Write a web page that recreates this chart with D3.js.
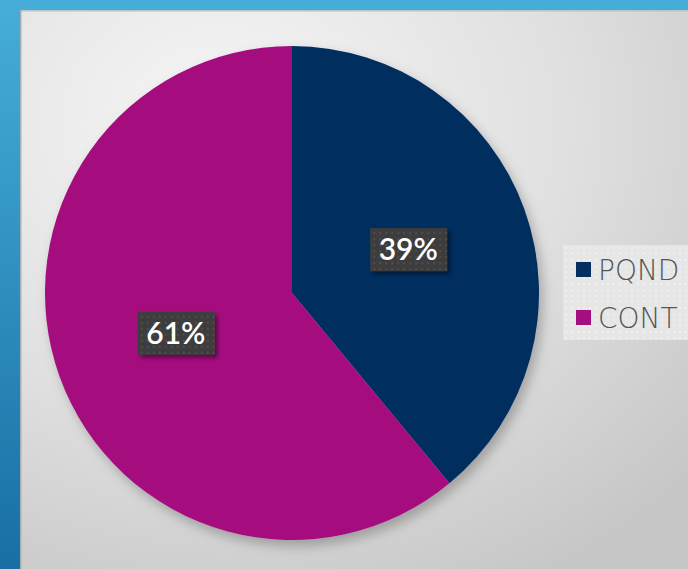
<!DOCTYPE html>
<html><head><meta charset="utf-8">
<script src="https://cdn.jsdelivr.net/npm/d3@7/dist/d3.min.js"></script>
<style>html,body{margin:0;padding:0;overflow:hidden;background:#fff}</style>
</head><body>
<svg id="c" width="688" height="569"></svg>
<script>
const categories = ["PQND", "CONT"];
const values = [39, 61];
const labels = ["39%", "61%"];
const colors = ["#062E5F", "#A50E7F"];

const svg = d3.select("#c");
const defs = svg.append("defs");

const bg = defs.append("linearGradient").attr("id","frame").attr("x1",0).attr("y1",0).attr("x2",0).attr("y2",1);
bg.append("stop").attr("offset","0%").attr("stop-color","#46AED8");
bg.append("stop").attr("offset","100%").attr("stop-color","#186FA4");

const panel = defs.append("radialGradient").attr("id","panel").attr("cx","0.3").attr("cy","0.2").attr("r","0.95");
panel.append("stop").attr("offset","0%").attr("stop-color","#f6f6f6");
panel.append("stop").attr("offset","55%").attr("stop-color","#e0e0e0");
panel.append("stop").attr("offset","100%").attr("stop-color","#c6c6c6");

const sh = defs.append("filter").attr("id","shadow").attr("x","-20%").attr("y","-20%").attr("width","140%").attr("height","140%");
sh.append("feDropShadow").attr("dx",4).attr("dy",6).attr("stdDeviation",6).attr("flood-color","#000").attr("flood-opacity",0.25);

const lsh = defs.append("filter").attr("id","lshadow").attr("x","-20%").attr("y","-20%").attr("width","150%").attr("height","160%");
lsh.append("feDropShadow").attr("dx",3).attr("dy",3).attr("stdDeviation",2).attr("flood-color","#000").attr("flood-opacity",0.45);

const pat = defs.append("pattern").attr("id","dots").attr("width",6).attr("height",6).attr("patternUnits","userSpaceOnUse");
pat.append("rect").attr("width",6).attr("height",6).attr("fill","#3e3e3e");
pat.append("rect").attr("x",1).attr("y",1).attr("width",2).attr("height",2).attr("fill","#4d4d4d");

const lpat = defs.append("pattern").attr("id","ldots").attr("width",6).attr("height",6).attr("patternUnits","userSpaceOnUse");
lpat.append("rect").attr("width",6).attr("height",6).attr("fill","#e6e6e6");
lpat.append("rect").attr("x",1).attr("y",1).attr("width",2).attr("height",2).attr("fill","#efefef");

svg.append("rect").attr("width",688).attr("height",569).attr("fill","url(#frame)");
svg.append("rect").attr("x",20).attr("y",10).attr("width",668).attr("height",559).attr("fill","url(#panel)");
svg.append("rect").attr("x",20).attr("y",10).attr("width",668).attr("height",1.5).attr("fill","#b8c4c8");
svg.append("rect").attr("x",20).attr("y",10).attr("width",1.5).attr("height",559).attr("fill","#a8b0b4");

const cx = 292, cy = 293, R = 247;
const pie = d3.pie().sort(null).value(d => d)(values);
const arc = d3.arc().innerRadius(0).outerRadius(R);
const g = svg.append("g").attr("transform",`translate(${cx},${cy})`);
g.append("g").attr("filter","url(#shadow)").selectAll("path").data(pie).join("path")
  .attr("d",arc).attr("fill",(d,i)=>colors[i]);

const labelArc = d3.arc().innerRadius(R*0.5).outerRadius(R*0.5);
const lg = g.selectAll("g.lbl").data(pie).join("g").attr("class","lbl")
  .attr("transform",d=>{const c = labelArc.centroid(d); return `translate(${c[0]},${c[1]-2})`;});
lg.append("rect").attr("x",-38).attr("y",-21).attr("width",77).attr("height",43)
  .attr("fill","url(#dots)").attr("filter","url(#lshadow)");
lg.append("text").attr("text-anchor","middle").attr("dy","0.36em")
  .attr("fill","#fff").attr("font-family","Lato, 'Open Sans', sans-serif").attr("font-weight",600)
  .attr("font-size",30).text((d,i)=>labels[i]);

// legend
const leg = svg.append("g");
leg.append("rect").attr("x",563).attr("y",245).attr("width",125).attr("height",95).attr("fill","url(#ldots)");
const li = leg.selectAll("g").data(categories).join("g")
  .attr("transform",(d,i)=>`translate(576,${262 + i*48})`);
li.append("rect").attr("width",15).attr("height",15).attr("fill",(d,i)=>colors[i]);
li.append("text").attr("x",22).attr("y",7.5).attr("dy","0.36em")
  .attr("font-family","'DejaVu Sans', sans-serif").attr("font-weight",200)
  .attr("font-size",28).attr("fill","#555").text(d=>d);
</script>
</body></html>
